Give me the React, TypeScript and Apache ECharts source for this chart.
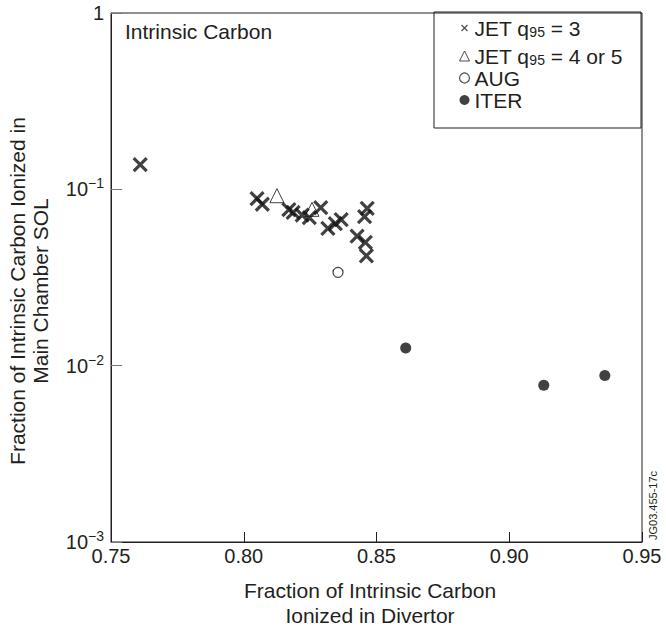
import React, { useEffect, useRef } from "react";
import * as echarts from "echarts";

// JET q95 = 3 (crosses)
const jetQ3: [number, number][] = [
  [0.761, 0.138],
  [0.805, 0.0886],
  [0.807, 0.0823],
  [0.817, 0.0768],
  [0.8186, 0.0741],
  [0.822, 0.0713],
  [0.8247, 0.0692],
  [0.829, 0.0788],
  [0.8317, 0.06],
  [0.8345, 0.064],
  [0.8367, 0.0674],
  [0.8427, 0.0542],
  [0.8455, 0.07],
  [0.8465, 0.078],
  [0.8458, 0.05],
  [0.8462, 0.042],
];
// JET q95 = 4 or 5 (triangles)
const jetQ45: [number, number][] = [
  [0.8125, 0.092],
  [0.8257, 0.077],
];
// AUG (open circles)
const aug: [number, number][] = [[0.8355, 0.0338]];
// ITER (filled circles)
const iter: [number, number][] = [
  [0.861, 0.0126],
  [0.913, 0.00774],
  [0.936, 0.0088],
];

const seriesNames = ["JET q95 = 3", "JET q95 = 4 or 5", "AUG", "ITER"];
const legendLabels: Record<string, string> = {
  "JET q95 = 3": "JET q{sub|95} = 3",
  "JET q95 = 4 or 5": "JET q{sub|95} = 4 or 5",
  AUG: "AUG",
  ITER: "ITER",
};
const xTicks = { min: 0.75, max: 0.95, interval: 0.05 };
const yRange = { min: 0.001, max: 1 };

const INK = "#231f20";
const MARK = "#111";
const FONT = "'Liberation Sans', Arial, Helvetica, sans-serif";
const CROSS = "path://M0,0L10,10M10,0L0,10";
const SMALL_CROSS = "path://M0,0L0,0M2,2L8,8M8,2L2,8M10,10L10,10";

export default function App() {
  const ref = useRef<HTMLDivElement>(null);
  useEffect(() => {
    if (!ref.current) return;
    const chart = echarts.init(ref.current, null, { renderer: "svg" });
    const option: any = {
      animation: false,
      backgroundColor: "#fff",
      textStyle: { fontFamily: FONT, color: INK },
      grid: {
        left: 111,
        right: 24,
        top: 12,
        bottom: 88,
        show: true,
        borderColor: INK,
        borderWidth: 1,
        backgroundColor: "transparent",
      },
      xAxis: {
        type: "value",
        min: xTicks.min,
        max: xTicks.max,
        interval: xTicks.interval,
        axisLine: { show: true, lineStyle: { color: INK, width: 1 } },
        axisTick: { show: true, inside: true, length: 10, lineStyle: { color: INK } },
        splitLine: { show: false },
        axisLabel: {
          fontSize: 20,
          color: INK,
          fontFamily: FONT,
          margin: 4,
          formatter: (v: number) => v.toFixed(2),
        },
      },
      yAxis: {
        type: "log",
        logBase: 10,
        min: yRange.min,
        max: yRange.max,
        axisLine: { show: true, lineStyle: { color: INK, width: 1 } },
        axisTick: { show: true, inside: true, length: 11, lineStyle: { color: "#777" } },
        minorTick: { show: false },
        splitLine: { show: false },
        axisLabel: {
          fontSize: 20,
          color: INK,
          fontFamily: FONT,
          margin: 7,
          lineHeight: 26,
          formatter: (v: number) => {
            const e = Math.round(Math.log10(v));
            if (e === 0) return "1";
            return "10{sup|\u2212" + Math.abs(e) + "}";
          },
          rich: {
            sup: { fontSize: 14, lineHeight: 14, verticalAlign: "top", color: INK, fontFamily: FONT },
          },
        },
      },
      legend: {
        orient: "vertical",
        left: 457,
        top: 11,
        padding: 0,
        itemGap: 0,
        itemWidth: 10,
        itemHeight: 10,
        selectedMode: false,
        textStyle: {
          fontSize: 21,
          color: INK,
          fontFamily: FONT,
          lineHeight: 22,
          rich: {
            sub: {
              fontSize: 14,
              lineHeight: 14,
              padding: [14, 0, 0, 0],
              verticalAlign: "bottom",
              color: INK,
              fontFamily: FONT,
            },
          },
        },
        formatter: (name: string) => legendLabels[name] || name,
        data: [
          {
            name: seriesNames[0],
            icon: SMALL_CROSS,
            itemStyle: { color: "none", borderColor: INK, borderWidth: 1.2 },
          },
          {
            name: seriesNames[1],
            icon: "triangle",
            itemStyle: { color: "#fff", borderColor: INK, borderWidth: 1 },
          },
          {
            name: seriesNames[2],
            icon: "circle",
            itemStyle: { color: "#fff", borderColor: INK, borderWidth: 1.2 },
          },
          {
            name: seriesNames[3],
            icon: "circle",
            itemStyle: { color: MARK, borderColor: MARK, borderWidth: 0 },
          },
        ],
      },
      graphic: [
        {
          type: "rect",
          shape: { x: 434, y: 12, width: 207, height: 116 },
          style: { fill: "none", stroke: INK, lineWidth: 1 },
          z: 0,
        },
        {
          type: "text",
          x: 125,
          y: 31,
          style: {
            text: "Intrinsic Carbon",
            font: `21px ${FONT}`,
            fill: INK,
            verticalAlign: "middle",
          },
        },
        {
          type: "text",
          x: 29,
          y: 291,
          rotation: Math.PI / 2,
          style: {
            text: "Fraction of Intrinsic Carbon Ionized in\nMain Chamber SOL",
            font: `21px ${FONT}`,
            fill: INK,
            align: "center",
            verticalAlign: "middle",
            lineHeight: 23,
          },
        },
        {
          type: "text",
          x: 370,
          y: 603,
          style: {
            text: "Fraction of Intrinsic Carbon\nIonized in Divertor",
            font: `21px ${FONT}`,
            fill: INK,
            align: "center",
            verticalAlign: "middle",
            lineHeight: 25,
          },
        },
        {
          type: "text",
          x: 653,
          y: 540,
          rotation: Math.PI / 2,
          style: {
            text: "JG03.455-17c",
            font: `11px ${FONT}`,
            fill: INK,
            align: "left",
            verticalAlign: "middle",
          },
        },
      ],
      series: [
        {
          name: seriesNames[0],
          type: "scatter",
          data: jetQ3,
          symbol: CROSS,
          symbolSize: 13,
          itemStyle: { color: "none", borderColor: MARK, borderWidth: 3.2 },
          z: 3,
        },
        {
          name: seriesNames[1],
          type: "scatter",
          data: jetQ45,
          symbol: "triangle",
          symbolSize: 14,
          itemStyle: { color: "#fff", borderColor: MARK, borderWidth: 1 },
          z: 2,
        },
        {
          name: seriesNames[2],
          type: "scatter",
          data: aug,
          symbol: "circle",
          symbolSize: 10,
          itemStyle: { color: "#fff", borderColor: MARK, borderWidth: 1.2 },
        },
        {
          name: seriesNames[3],
          type: "scatter",
          data: iter,
          symbol: "circle",
          symbolSize: 11,
          itemStyle: { color: MARK },
        },
      ],
    };
    chart.setOption(option);
    return () => chart.dispose();
  }, []);
  return (
    <div
      ref={ref}
      style={{ position: "fixed", left: 0, top: 0, width: 666, height: 630 }}
    />
  );
}
